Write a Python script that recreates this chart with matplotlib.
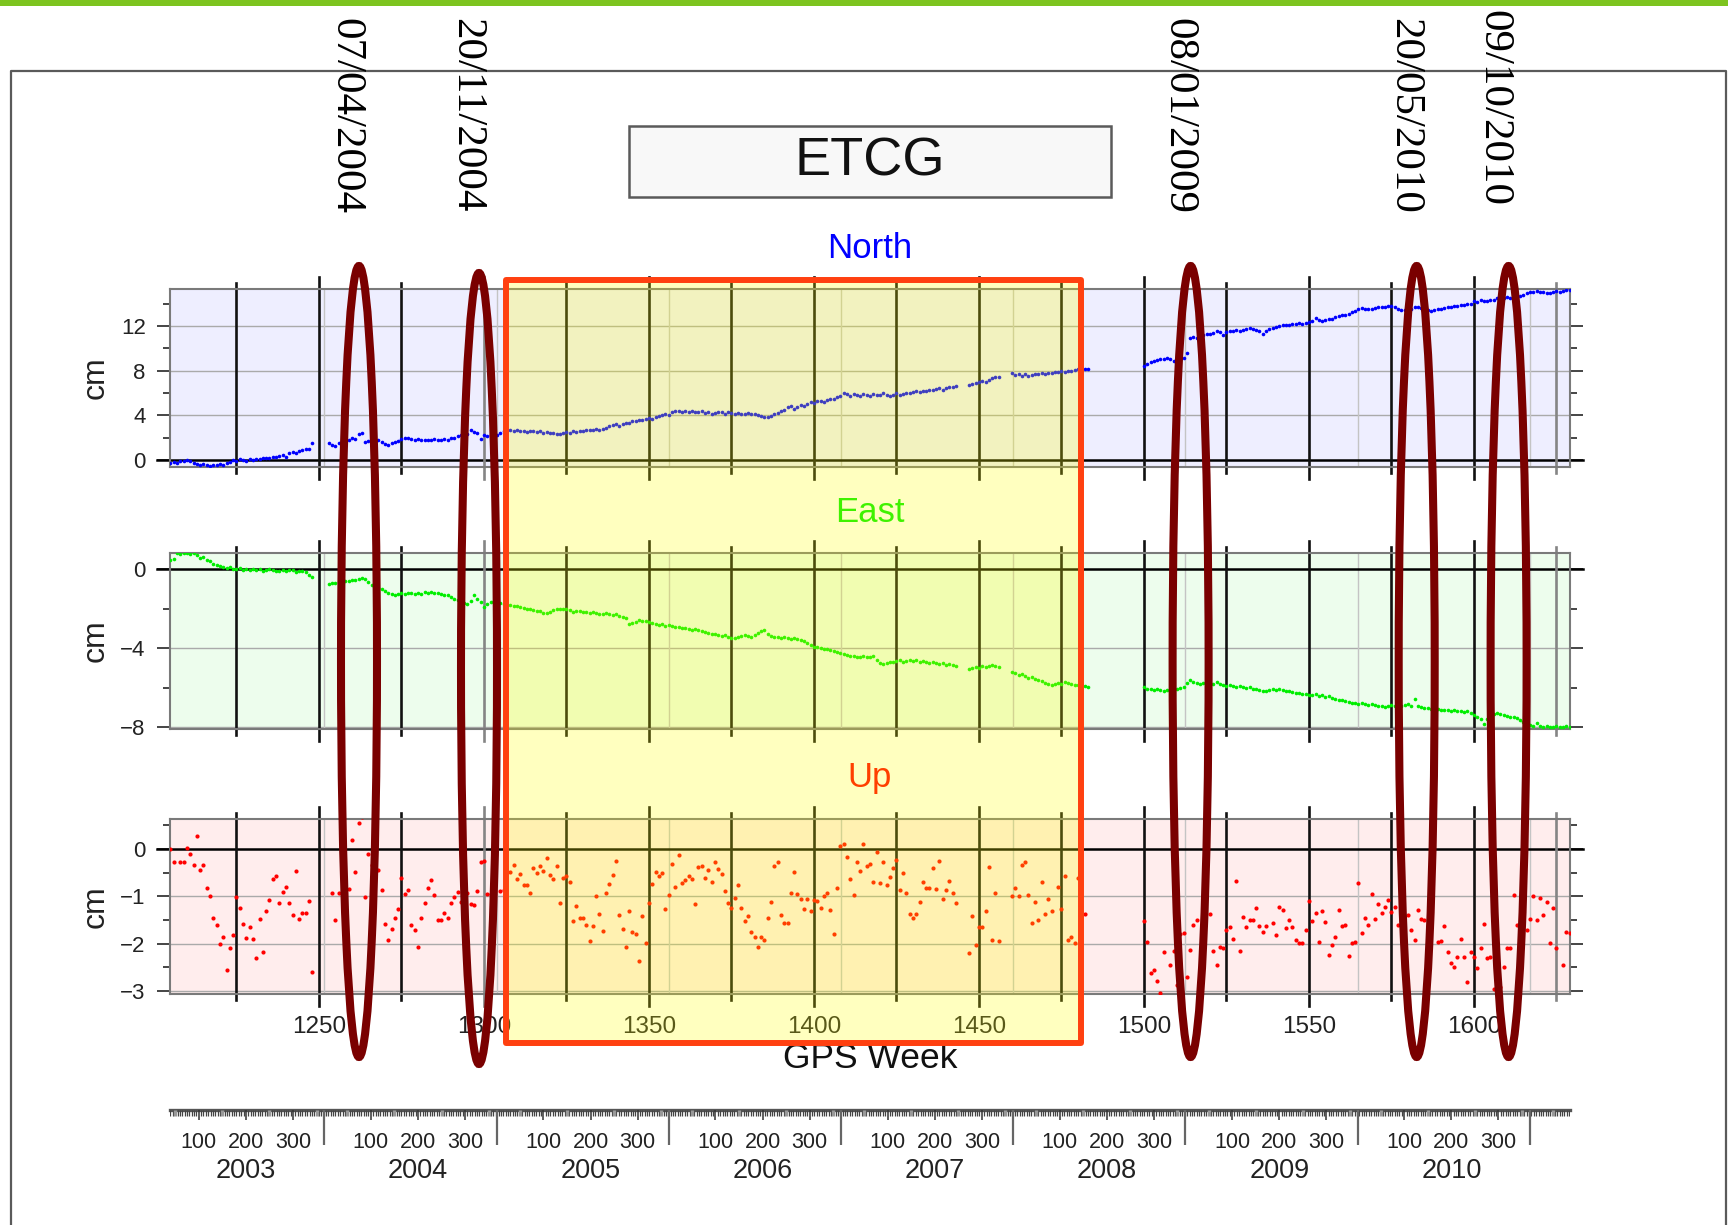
import datetime as dt
import numpy as np
import matplotlib
matplotlib.use("Agg")
import matplotlib.pyplot as plt
from matplotlib.patches import Rectangle, Ellipse

plt.rcParams['font.family'] = ['Liberation Sans', 'DejaVu Sans']
plt.rcParams['font.serif'] = ['Liberation Serif', 'DejaVu Serif', 'Times New Roman']

W, H = 1728, 1225

# ---------------- data ----------------
station = "ETCG"
component_names = ["North", "East", "Up"]

# GPS week where each continuous stretch of North/East solutions starts
segment_starts = [1205, 1253, 1447, 1460, 1500]

north_a = [-0.30, -0.20, -0.25, -0.10, -0.05, 0.00, -0.10, -0.30, -0.40, -0.45,
           -0.40, -0.45, -0.50, -0.45, -0.45, -0.40, -0.45, -0.30, -0.20, 0.00,
           -0.05, 0.05, 0.00, -0.05, 0.05, 0.00, 0.10, 0.05, 0.15, 0.20,
           0.20, 0.30, 0.25, 0.35, 0.40, 0.30, 0.60, 0.75, 0.60, 0.80,
           0.90, 1.00, 0.95, 1.50]
north_b = [1.50, 1.30, 1.25, 1.50, 1.70, 1.80, 1.75, 2.00, 1.90, 2.30,
           2.40, 1.60, 1.70, 1.70, 1.80, 1.75, 1.60, 1.45, 1.35, 1.50,
           1.65, 1.70, 1.90, 1.95, 2.00, 1.85, 1.80, 1.85, 1.75, 1.80,
           1.75, 1.80, 1.85, 1.80, 1.75, 1.85, 1.80, 1.95, 2.00, 2.10,
           2.20, 2.05, 2.30, 2.70, 2.50, 2.40, 1.90, 2.20, 2.10, 2.20,
           2.30, 2.20, 2.40, 2.60, 2.70, 2.70, 2.60, 2.65, 2.55, 2.60,
           2.50, 2.55, 2.60, 2.50, 2.55, 2.45, 2.50, 2.40, 2.45, 2.30,
           2.35, 2.40, 2.50, 2.45, 2.55, 2.50, 2.60, 2.55, 2.65, 2.70,
           2.65, 2.75, 2.70, 2.80, 2.90, 3.00, 3.10, 3.20, 3.05, 3.20,
           3.35, 3.30, 3.45, 3.50, 3.55, 3.60, 3.70, 3.75, 3.65, 3.85,
           3.95, 4.00, 4.10, 4.05, 4.25, 4.40, 4.35, 4.30, 4.35, 4.30,
           4.40, 4.25, 4.30, 4.35, 4.20, 4.30, 4.15, 4.20, 4.30, 4.25,
           4.15, 4.25, 4.20, 4.10, 4.20, 4.15, 4.10, 4.20, 4.10, 4.15,
           4.00, 3.90, 3.85, 3.80, 3.95, 4.10, 4.20, 4.40, 4.45, 4.70,
           4.80, 4.60, 4.75, 4.95, 4.85, 5.00, 5.15, 5.10, 5.25, 5.30,
           5.20, 5.35, 5.45, 5.50, 5.60, 5.75, 6.00, 5.90, 5.75, 5.90,
           5.85, 5.70, 5.90, 5.85, 5.75, 5.90, 5.80, 5.85, 5.95, 5.80,
           5.75, 5.85, 5.95, 5.85, 5.90, 6.00, 5.95, 6.05, 6.15, 6.10,
           6.20, 6.15, 6.30, 6.25, 6.35, 6.40, 6.30, 6.45, 6.50, 6.55,
           6.60]
north_c = [6.75, 6.80, 6.90, 7.00, 7.10, 7.00, 7.20, 7.30, 7.45, 7.40]
north_d = [7.75, 7.60, 7.70, 7.55, 7.65, 7.55, 7.60, 7.70, 7.65, 7.75,
           7.70, 7.80, 7.75, 7.85, 7.90, 7.95, 7.85, 8.00, 7.95, 8.05,
           8.10, 8.00, 8.15, 8.15]
north_e = [8.40, 8.60, 8.80, 8.85, 8.95, 9.00, 9.05, 9.10, 9.00, 8.85,
           8.90, 9.05, 9.10, 9.55, 10.90, 11.00, 10.95, 11.10, 11.20, 11.30,
           11.25, 11.40, 11.50, 11.45, 11.20, 11.45, 11.50, 11.55, 11.60, 11.55,
           11.60, 11.70, 11.80, 11.75, 11.60, 11.50, 11.30, 11.50, 11.75, 11.85,
           11.90, 11.95, 12.10, 12.05, 12.10, 12.15, 12.20, 12.25, 12.20, 12.30,
           12.35, 12.45, 12.70, 12.50, 12.40, 12.50, 12.60, 12.65, 12.75, 12.85,
           12.95, 13.00, 13.10, 13.20, 13.35, 13.50, 13.60, 13.55, 13.50, 13.55,
           13.60, 13.65, 13.70, 13.70, 13.80, 13.75, 13.65, 13.50, 13.40, 13.45,
           13.50, 13.55, 13.65, 13.70, 13.60, 13.50, 13.40, 13.30, 13.45, 13.50,
           13.55, 13.60, 13.65, 13.70, 13.75, 13.80, 13.85, 13.90, 13.95, 14.00,
           14.20, 14.15, 14.30, 14.25, 14.20, 14.30, 14.35, 14.45, 14.40, 14.50,
           14.55, 14.50, 14.60, 14.55, 14.70, 14.75, 14.90, 15.00, 15.05, 15.10,
           15.05, 15.00, 14.95, 14.90, 15.00, 15.10, 15.05, 15.10, 15.20, 15.20]

east_a = [0.45, 0.50, 0.80, 0.75, 0.80, 0.80, 0.75, 0.80, 0.70, 0.55,
          0.60, 0.45, 0.40, 0.25, 0.20, 0.15, 0.10, 0.05, 0.10, 0.00,
          0.00, 0.05, -0.05, 0.00, -0.05, 0.00, -0.05, 0.00, -0.10, -0.05,
          0.00, -0.05, -0.10, -0.10, -0.05, -0.10, -0.05, -0.05, -0.15, -0.10,
          -0.10, -0.15, -0.30, -0.40]
east_b = [-0.75, -0.70, -0.70, -0.65, -0.65, -0.60, -0.60, -0.55, -0.55, -0.50,
          -0.45, -0.50, -0.65, -0.80, -0.85, -0.95, -1.00, -1.10, -1.20, -1.25,
          -1.30, -1.25, -1.20, -1.25, -1.20, -1.20, -1.25, -1.20, -1.25, -1.15,
          -1.20, -1.15, -1.20, -1.20, -1.25, -1.30, -1.30, -1.40, -1.50, -1.55,
          -1.60, -1.70, -1.75, -1.60, -1.30, -1.50, -1.65, -1.90, -1.75, -1.65,
          -1.60, -1.60, -1.70, -1.75, -1.80, -1.80, -1.85, -1.85, -1.90, -1.95,
          -2.00, -2.05, -2.10, -2.15, -2.15, -2.25, -2.25, -2.20, -2.10, -2.05,
          -2.00, -2.00, -2.05, -2.10, -2.20, -2.15, -2.15, -2.20, -2.20, -2.25,
          -2.20, -2.25, -2.30, -2.30, -2.25, -2.30, -2.35, -2.30, -2.40, -2.45,
          -2.50, -2.80, -2.75, -2.70, -2.60, -2.65, -2.65, -2.70, -2.75, -2.80,
          -2.85, -2.80, -2.90, -2.85, -2.90, -2.95, -2.95, -3.00, -3.00, -3.05,
          -3.10, -3.05, -3.10, -3.15, -3.20, -3.25, -3.30, -3.30, -3.35, -3.40,
          -3.35, -3.45, -3.50, -3.50, -3.45, -3.40, -3.35, -3.40, -3.45, -3.35,
          -3.25, -3.15, -3.10, -3.30, -3.40, -3.45, -3.45, -3.50, -3.45, -3.50,
          -3.55, -3.50, -3.55, -3.60, -3.65, -3.75, -3.85, -3.95, -3.95, -4.00,
          -4.05, -4.05, -4.10, -4.15, -4.20, -4.25, -4.30, -4.35, -4.40, -4.40,
          -4.45, -4.45, -4.40, -4.45, -4.45, -4.40, -4.60, -4.75, -4.80, -4.75,
          -4.70, -4.70, -4.65, -4.60, -4.70, -4.65, -4.60, -4.65, -4.60, -4.70,
          -4.65, -4.70, -4.75, -4.70, -4.75, -4.80, -4.75, -4.85, -4.80, -4.85,
          -4.90]
east_c = [-5.05, -5.00, -4.95, -5.00, -4.90, -4.95, -4.90, -4.85, -4.90, -4.95]
east_d = [-5.20, -5.25, -5.35, -5.30, -5.40, -5.50, -5.45, -5.55, -5.60, -5.65,
          -5.75, -5.80, -5.85, -5.80, -5.75, -5.80, -5.70, -5.75, -5.80, -5.85,
          -5.85, -5.90, -5.90, -5.95]
east_e = [-5.95, -6.05, -6.10, -6.15, -6.10, -6.15, -6.20, -6.15, -6.20, -6.10,
          -6.05, -6.00, -5.95, -5.75, -5.60, -5.70, -5.75, -5.80, -5.75, -5.70,
          -5.75, -5.80, -5.70, -5.80, -5.85, -5.90, -5.85, -5.90, -5.95, -5.90,
          -5.95, -6.00, -5.95, -6.05, -6.10, -6.15, -6.20, -6.20, -6.15, -6.10,
          -6.15, -6.10, -6.15, -6.20, -6.20, -6.25, -6.30, -6.30, -6.35, -6.35,
          -6.40, -6.40, -6.35, -6.45, -6.40, -6.50, -6.45, -6.55, -6.60, -6.65,
          -6.65, -6.70, -6.75, -6.80, -6.80, -6.85, -6.80, -6.85, -6.90, -6.85,
          -6.90, -6.95, -6.95, -7.00, -6.95, -6.90, -6.95, -6.90, -6.95, -6.90,
          -6.85, -6.95, -6.60, -6.95, -7.00, -7.05, -7.05, -7.10, -7.10, -7.10,
          -7.15, -7.15, -7.15, -7.20, -7.15, -7.20, -7.20, -7.25, -7.20, -7.30,
          -7.40, -7.50, -7.60, -7.85, -7.60, -7.45, -7.35, -7.30, -7.35, -7.40,
          -7.45, -7.50, -7.50, -7.55, -7.65, -7.75, -7.85, -7.90, -7.95, -7.80,
          -7.95, -8.00, -7.95, -8.00, -8.00, -7.95, -8.00, -8.00, -7.95, -8.00]

up_weeks = [1205, 1206, 1208, 1209, 1210, 1211, 1212, 1213, 1214, 1215, 1216, 1217,
            1218, 1219, 1220, 1221, 1222, 1223, 1224, 1225, 1226, 1227, 1228, 1229,
            1230, 1231, 1232, 1233, 1234, 1235, 1236, 1237, 1238, 1239, 1240, 1241,
            1242, 1243, 1244, 1245, 1246, 1247, 1248,
            1254, 1255, 1256, 1259, 1260, 1261, 1262, 1263, 1264, 1265, 1266, 1268,
            1269, 1270, 1271, 1272, 1273, 1274, 1275, 1276, 1277, 1278, 1279, 1280,
            1281, 1282, 1283, 1284, 1285, 1286, 1287, 1288, 1289, 1290, 1291, 1292,
            1293, 1294, 1295, 1296, 1297, 1298, 1299, 1300, 1301, 1302, 1303, 1305,
            1306, 1308, 1309, 1310, 1311, 1312, 1313, 1314, 1315, 1316, 1317, 1318,
            1319, 1320, 1321, 1322, 1323, 1324, 1325, 1326, 1327, 1328, 1329, 1330,
            1331, 1332, 1333, 1334, 1335, 1336, 1337, 1338, 1339, 1340, 1341, 1342,
            1343, 1344, 1345, 1346, 1347, 1348, 1349, 1350, 1351, 1352, 1353, 1354,
            1355, 1356, 1357, 1358, 1359, 1360, 1361, 1362, 1363, 1364, 1365, 1366,
            1367, 1368, 1369, 1370, 1371, 1372, 1373, 1374, 1375, 1376, 1377, 1378,
            1379, 1380, 1381, 1382, 1383, 1384, 1385, 1386, 1387, 1388, 1389, 1390,
            1391, 1392, 1393, 1394, 1395, 1396, 1397, 1398, 1399, 1400, 1401,
            1402, 1403, 1404, 1405, 1406, 1407, 1408, 1409, 1410, 1411, 1412, 1413,
            1414, 1415, 1416, 1417, 1418, 1419, 1420, 1421, 1422, 1423, 1424, 1425,
            1426, 1427, 1428, 1429, 1430, 1431, 1432, 1433, 1434, 1435, 1436, 1437,
            1438, 1439, 1440, 1441, 1442, 1443, 1447, 1448, 1449, 1450, 1451, 1452,
            1453, 1454, 1455, 1456, 1460, 1461, 1462, 1463, 1464, 1465, 1466, 1467,
            1468, 1469, 1470, 1471, 1472, 1474, 1475, 1476, 1477, 1478, 1479, 1480,
            1482,
            1500, 1501, 1502, 1503, 1504, 1505, 1506, 1508, 1509, 1510, 1511, 1512,
            1513, 1514, 1515, 1516, 1520, 1521, 1522, 1523, 1524, 1525, 1526, 1527,
            1528, 1529, 1530, 1531, 1532, 1533, 1534, 1535, 1536, 1537, 1539, 1540,
            1541, 1542, 1543, 1544, 1545, 1546, 1547, 1548, 1549, 1550, 1551, 1552,
            1553, 1554, 1555, 1556, 1557, 1558, 1559, 1560, 1561, 1562, 1563, 1564,
            1565, 1566, 1567, 1568, 1569, 1570, 1571, 1572, 1573, 1574, 1575, 1576,
            1577, 1580, 1581, 1582, 1583, 1584, 1585, 1589, 1590, 1591, 1592, 1593,
            1594, 1595, 1596, 1597, 1598, 1599, 1600, 1601, 1602, 1603, 1604, 1605,
            1606, 1608, 1609, 1610, 1611, 1612, 1613, 1616, 1617, 1618, 1619, 1620,
            1621, 1622, 1623, 1624, 1625, 1627, 1628, 1629]
up_cm = [0.00, -0.27, -0.27, -0.27, 0.01, -0.11, -0.34, 0.28, -0.45, -0.33, -0.83, -0.99,
         -1.45, -1.61, -2.01, -1.86, -2.56, -2.08, -1.81, -1.01, -1.25, -1.59, -1.88, -1.64,
         -1.91, -2.31, -1.47, -2.18, -1.31, -1.08, -0.64, -0.58, -1.14, -0.90, -0.81, -1.14,
         -1.40, -0.47, -1.47, -1.36, -1.36, -1.09, -2.59,
         -0.94, -1.51, -0.94, -0.84, 0.18, -0.49, 0.55, 0.67, -1.02, -0.11, -0.33, -0.44,
         -0.86, -1.58, -1.92, -1.69, -1.45, -1.27, -0.61, -0.96, -0.86, -1.61, -1.71, -2.07,
         -1.45, -1.14, -0.83, -0.66, -0.97, -1.50, -1.51, -1.36, -1.46, -1.14, -1.02, -0.90,
         -1.13, -1.16, -0.93, -1.16, -1.19, -0.88, -0.27, -0.25, -0.96, -0.96, -0.22, -0.88,
         -0.87, -0.48, -0.35, -0.63, -0.53, -0.77, -0.76, -0.92, -0.41, -0.51, -0.37, -0.46,
         -0.20, -0.56, -0.64, -0.36, -1.15, -0.61, -0.58, -0.70, -1.52, -1.20, -1.45, -1.46,
         -1.60, -1.94, -1.62, -0.99, -1.38, -1.73, -0.92, -0.74, -0.55, -0.25, -1.40, -1.68,
         -2.06, -1.32, -1.75, -1.80, -2.37, -1.42, -1.99, -1.15, -0.74, -0.49, -0.57, -0.51,
         -1.27, -0.97, -0.32, -0.80, -0.13, -0.73, -0.65, -0.57, -0.64, -1.17, -0.39, -0.37,
         -0.61, -0.44, -0.70, -0.28, -0.42, -0.54, -0.89, -1.15, -1.24, -1.04, -0.77, -1.24,
         -1.52, -1.42, -1.76, -1.85, -2.06, -1.85, -1.92, -1.45, -1.11, -0.36, -0.28, -1.39,
         -1.57, -1.57, -0.92, -0.48, -0.96, -1.06, -1.27, -1.06, -1.31, -1.08, -1.09,
         -1.25, -0.99, -0.92, -1.29, -1.80, -0.83, 0.07, 0.10, -0.18, -0.63, -0.98, -0.28,
         -0.46, 0.11, -0.37, -0.31, -0.69, -0.06, -0.73, -0.28, -0.77, -0.60, -0.41, -0.23,
         -0.87, -0.51, -0.92, -1.38, -1.46, -1.38, -1.11, -0.70, -0.82, -0.82, -0.41, -0.85,
         -0.25, -1.06, -0.87, -0.68, -0.92, -1.15, -2.19, -1.42, -2.03, -1.64, -1.64, -1.30,
         -0.39, -1.92, -0.94, -1.94, -0.99, -0.82, -0.99, -0.35, -0.27, -0.97, -1.56, -1.12,
         -1.50, -0.70, -1.37, -1.06, -1.31, -0.81, -1.27, -0.58, -1.92, -1.85, -1.98, -0.62,
         -1.38,
         -1.53, -1.96, -2.62, -2.55, -2.79, -3.04, -2.17, -2.45, -2.15, -2.88, -1.79, -1.77,
         -2.70, -2.13, -1.60, -1.51, -1.38, -2.16, -2.45, -2.06, -2.08, -1.70, -1.64, -1.91,
         -0.67, -2.16, -1.43, -1.64, -1.50, -1.51, -1.25, -1.62, -1.76, -1.63, -1.56, -1.82,
         -1.23, -1.28, -1.67, -1.51, -1.65, -1.92, -1.99, -1.99, -1.70, -1.09, -1.52, -1.35,
         -1.97, -1.30, -1.55, -2.24, -2.03, -1.85, -1.28, -1.62, -1.60, -2.26, -1.99, -1.96,
         -0.73, -1.77, -1.46, -1.60, -0.96, -1.48, -1.16, -1.35, -1.23, -1.07, -1.33, -1.23,
         -1.60, -1.39, -1.70, -1.92, -1.28, -1.48, -1.51, -1.97, -1.95, -1.63, -2.17, -2.40,
         -2.50, -2.28, -1.90, -2.29, -2.81, -2.17, -2.27, -2.52, -2.10, -1.58, -2.31, -2.28,
         -2.95, -2.91, -2.50, -2.08, -2.08, -0.98, -1.60, -1.71, -1.48, -0.99, -1.51, -1.03,
         -1.40, -1.11, -1.99, -1.24, -2.10, -2.45, -1.76, -1.77]

event_dates = ["07/04/2004", "20/11/2004", "08/01/2009", "20/05/2010", "09/10/2010"]
week_labels = [1250, 1300, 1350, 1400, 1450, 1500, 1550, 1600]
doy_labels = [100, 200, 300]
years = [2003, 2004, 2005, 2006, 2007, 2008, 2009, 2010]

# ---------------- layout (pixels of the 1728x1225 picture) ----------------
PANEL_L, PANEL_R = 170, 1570
panel_tops = [289, 553, 819]
panel_bottoms = [467, 729, 994]
XMIN, XMAX = 1204.85, 1629.1
ylims = [(-0.63, 15.3), (-8.1, 0.81), (-3.06, 0.63)]
majors = [[0, 4, 8, 12], [-8, -4, 0], [-3, -2, -1, 0]]
minors = [[2, 6, 10, 14], [-6, -2], [-2.5, -1.5, -0.5, 0.5]]
colors = ["#0000ff", "#00ee00", "#ff0000"]
faces = ["#eeeeff", "#edfded", "#ffeded"]
title_y = [249, 513, 777]


def px_rect(left, top, right, bottom):
    return [left / W, 1 - bottom / H, (right - left) / W, (bottom - top) / H]


def gps_week(d):
    return (d - dt.date(1980, 1, 6)).days / 7.0


def join_segments(parts):
    weeks = np.concatenate([np.arange(s, s + len(p)) for s, p in zip(segment_starts, parts)])
    vals = np.concatenate([np.asarray(p, float) for p in parts])
    return weeks, vals


north_w, north_v = join_segments([north_a, north_b, north_c, north_d, north_e])
east_w, east_v = join_segments([east_a, east_b, east_c, east_d, east_e])
series = [(north_w, north_v), (east_w, east_v), (np.array(up_weeks), np.array(up_cm))]

year_start_weeks = [gps_week(dt.date(y, 1, 1)) for y in range(2003, 2012)]

fig = plt.figure(figsize=(W / 100, H / 100), dpi=100)
fig.patch.set_facecolor("white")

panels = []
for i in range(3):
    ax = fig.add_axes(px_rect(PANEL_L, panel_tops[i], PANEL_R, panel_bottoms[i]))
    ax.set_facecolor(faces[i])
    ax.set_xlim(XMIN, XMAX)
    ax.set_ylim(*ylims[i])
    ax.set_yticks(majors[i])
    ax.set_yticks(minors[i], minor=True)
    ax.tick_params(axis='y', which='both', left=True, right=True, direction='out',
                   colors='#444444', labelcolor='#222222', labelsize=16, width=1.4)
    ax.tick_params(axis='y', which='major', length=9.5, pad=8)
    ax.tick_params(axis='y', which='minor', length=5)
    ax.tick_params(axis='x', length=0)
    for s in ax.spines.values():
        s.set_color('#7a7a7a')
        s.set_linewidth(1.5)
    for v in majors[i]:
        if v != 0:
            ax.axhline(v, color='#aaaaaa', lw=1.0, zorder=1)
    ax.axhline(0, xmin=-0.009, xmax=1.009, color='black', lw=1.8, clip_on=False, zorder=2)
    for w in year_start_weeks:
        if XMIN < w < XMAX:
            ax.axvline(w, color='#c4c4c4', lw=1.0, zorder=1)
    for w in range(1225, 1626, 25):
        ext = 0.07 if w % 50 == 0 else 0.035
        col = '#858585' if w in (1300, 1625) else '#111111'
        ax.plot([w, w], [-ext, 1 + ext], transform=ax.get_xaxis_transform(),
                color=col, lw=1.9, clip_on=False, zorder=2)
    wk, val = series[i]
    ax.plot(wk, val, 'o', ms=2.6 if i < 2 else 3.0, mew=0, color=colors[i], zorder=3)
    if i < 2:
        ax.set_xticks([])
    else:
        ax.set_xticks(week_labels)
        ax.set_xticklabels([str(w) for w in week_labels], fontsize=17.5, color='#222222')
        ax.tick_params(axis='x', pad=16)
    panels.append(ax)

# day-of-year / year scale under the plots
ax_doy = fig.add_axes(px_rect(PANEL_L, 1110, PANEL_R, 1200))
ax_doy.set_xlim(XMIN, XMAX)
ax_doy.set_ylim(90, 0)
ax_doy.axis('off')
ax_doy.plot([XMIN, XMAX], [0, 0], color='#555555', lw=2.4, clip_on=False)
for y in range(2003, 2012):
    y0 = gps_week(dt.date(y, 1, 1))
    small, mid, big = [], [], []
    for doy in range(5, 366, 5):
        w = y0 + (doy - 1) / 7.0
        if not XMIN <= w <= XMAX:
            continue
        if doy % 100 == 0:
            big.append(w)
        elif doy % 50 == 0:
            mid.append(w)
        else:
            small.append(w)
    ax_doy.vlines(small, 0, 6, color='#444444', lw=0.9)
    ax_doy.vlines(mid, 0, 6, color='#999999', lw=2.4)
    ax_doy.vlines(big, 0, 10, color='#333333', lw=1.1)
    if XMIN < y0 < XMAX:
        ax_doy.vlines([y0], 0, 35, color='#666666', lw=1.6)
    if y in years:
        for d in doy_labels:
            w = y0 + (d - 1) / 7.0
            if XMIN <= w <= XMAX:
                ax_doy.text(w, 33, str(d), fontsize=15.5, ha='center', va='center', color='#222222')
        ax_doy.text(y0 + 199 / 7.0, 61, str(y), fontsize=19.5, ha='center', va='center', color='#222222')

# ---------------- overlay: titles, annotations ----------------
ov = fig.add_axes([0, 0, 1, 1], zorder=10)
ov.set_xlim(0, W)
ov.set_ylim(H, 0)
ov.axis('off')

ov.add_patch(Rectangle((0, 0), W, 5.5, fc='#7dc41f', ec='none', zorder=1))
ov.plot([11, 11, 1726, 1726], [H, 71, 71, H], color='#5a5a5a', lw=1.6, zorder=1)

ov.add_patch(Rectangle((629, 126), 482, 71, fc='#f8f8f8', ec='#5a5a5a', lw=1.8, zorder=1))
ov.text(870, 162, station, fontsize=39, ha='center', va='center', color='#111111', zorder=2)

for name, col, ty in zip(component_names, colors, title_y):
    ov.text(870, ty, name, fontsize=25, ha='center', va='center', color=col, zorder=2)
for top, bot in zip(panel_tops, panel_bottoms):
    ov.text(96, (top + bot) / 2, "cm", fontsize=23, rotation=90, ha='center', va='center',
            color='#222222', zorder=2)
ov.text(870, 1058, "GPS Week", fontsize=25.5, ha='center', va='center', color='#111111', zorder=2)

date_x = [346, 466, 1179, 1404, 1494]
date_top = [18, 18, 18, 18, 10]
for label, x, t in zip(event_dates, date_x, date_top):
    ov.text(x, t, label, family='serif', fontsize=31,
            rotation=270, ha='center', va='top', color='black', zorder=3)

# highlighted period
ov.add_patch(Rectangle((506, 280), 575, 763, fc=(1, 1, 0, 0.25), ec='none', zorder=5))
ov.add_patch(Rectangle((506, 280), 575, 763, fc='none', ec='#ff4010', lw=4.3,
                       joinstyle='round', zorder=6))

ellipse_x = [359, 479, 1190.6, 1416.7, 1508.6]
ellipse_y = [661.5, 668.5, 661.5, 661.5, 661.5]
for cx, cy in zip(ellipse_x, ellipse_y):
    ov.add_patch(Ellipse((cx, cy), 36, 791, fc='none', ec='#7a0000', lw=5.8, zorder=7))

fig.savefig("out.png", dpi=100)
